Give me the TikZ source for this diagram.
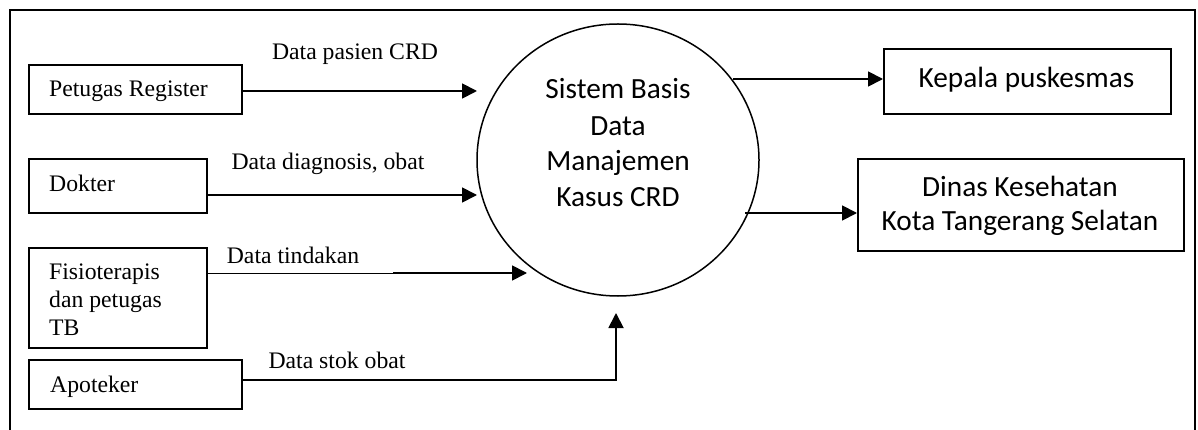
\documentclass[tikz,border=0pt]{standalone}
\usepackage{fontspec}
\setmainfont{Liberation Serif}
\newfontfamily\calfont{Carlito}
\usetikzlibrary{arrows.meta,shapes.geometric}
\begin{document}
\begin{tikzpicture}[x=1pt,y=-1pt,
  frameline/.style={line width=2pt},
  entity/.style={draw,line width=1.8pt,rectangle,inner sep=0pt,anchor=north west},
  serif/.style={inner sep=0pt,font=\fontsize{23.7}{28}\selectfont},
  sans/.style={inner sep=0pt,font=\calfont\fontsize{29.3}{36}\selectfont},
  flow/.style={line width=1.8pt,-{Triangle[length=15pt,width=15pt]}}]
\useasboundingbox (0,0) rectangle (1198,430);
% outer frame (open at the bottom)
\draw[frameline] (10,430) -- (10,10) -- (1195,10) -- (1195,430);

% external entities on the left
\node[entity,minimum width=213pt,minimum height=49pt] (reg) at (28,64) {};
\node[serif,anchor=base west] (regt) at (49,97) {Petugas Register};
\node[entity,minimum width=178pt,minimum height=54pt] (dok) at (28,158) {};
\node[serif,anchor=base west] (dokt) at (49,192) {Dokter};
\node[entity,minimum width=178pt,minimum height=100pt] (fis) at (28,247) {};
\node[serif,anchor=base west] (fis1) at (49,279) {Fisioterapis};
\node[serif,anchor=base west] (fis2) at (49,307) {dan petugas};
\node[serif,anchor=base west] (fis3) at (49,335) {TB};
\node[entity,minimum width=213pt,minimum height=49pt] (apo) at (28,359) {};
\node[serif,anchor=base west] (apot) at (50,392) {Apoteker};

% process
\node[draw,ellipse,fill=white,line width=1.5pt,minimum width=282pt,minimum height=272pt,inner sep=0pt] (sys) at (618,160) {};
\node[sans,anchor=base] (s1) at (618,99) {Sistem Basis};
\node[sans,anchor=base] (s2) at (618,136) {Data};
\node[sans,anchor=base] (s3) at (618,171) {Manajemen};
\node[sans,anchor=base] (s4) at (618,207) {Kasus CRD};

% external entities on the right
\node[entity,minimum width=287pt,minimum height=65pt] (kep) at (883,48) {};
\node[sans,anchor=base] (kept) at (1026.5,88) {Kepala puskesmas};
\node[entity,minimum width=326pt,minimum height=92pt] (din) at (857,158) {};
\node[sans,anchor=base] (din1) at (1020,197) {Dinas Kesehatan};
\node[sans,anchor=base] (din2) at (1020,230) {Kota Tangerang Selatan};

% connector end points
\coordinate (inreg) at (477,91);
\coordinate (indok) at (477,195);
\coordinate (fisbend) at (393,273);
\coordinate (infis) at (527,273);
\coordinate (apocorner) at (616,380);
\coordinate (inapo) at (616,313);
\coordinate (outkep) at (733,79);
\coordinate (outdin) at (745,213);
\coordinate (indin) at (857,213);

% data flows
\draw[flow] (reg.east |- inreg) -- (inreg);
\draw[flow] (dok.east |- indok) -- (indok);
\draw[line width=0.8pt] (fis.east |- fisbend) -- (fisbend);
\draw[flow] (fisbend) -- (infis);
\draw[flow] (apo.east |- apocorner) -- (apocorner) -- (inapo);
\draw[flow] (outkep) -- (kep.west |- outkep);
\draw[flow] (outdin) -- (indin);

% flow labels
\node[serif,anchor=base] (l1) at (355,60) {Data pasien CRD};
\node[serif,anchor=base] (l2) at (328,170) {Data diagnosis, obat};
\node[serif,anchor=base] (l3) at (293,263) {Data tindakan};
\node[serif,anchor=base] (l4) at (337,368) {Data stok obat};
\end{tikzpicture}
\end{document}
